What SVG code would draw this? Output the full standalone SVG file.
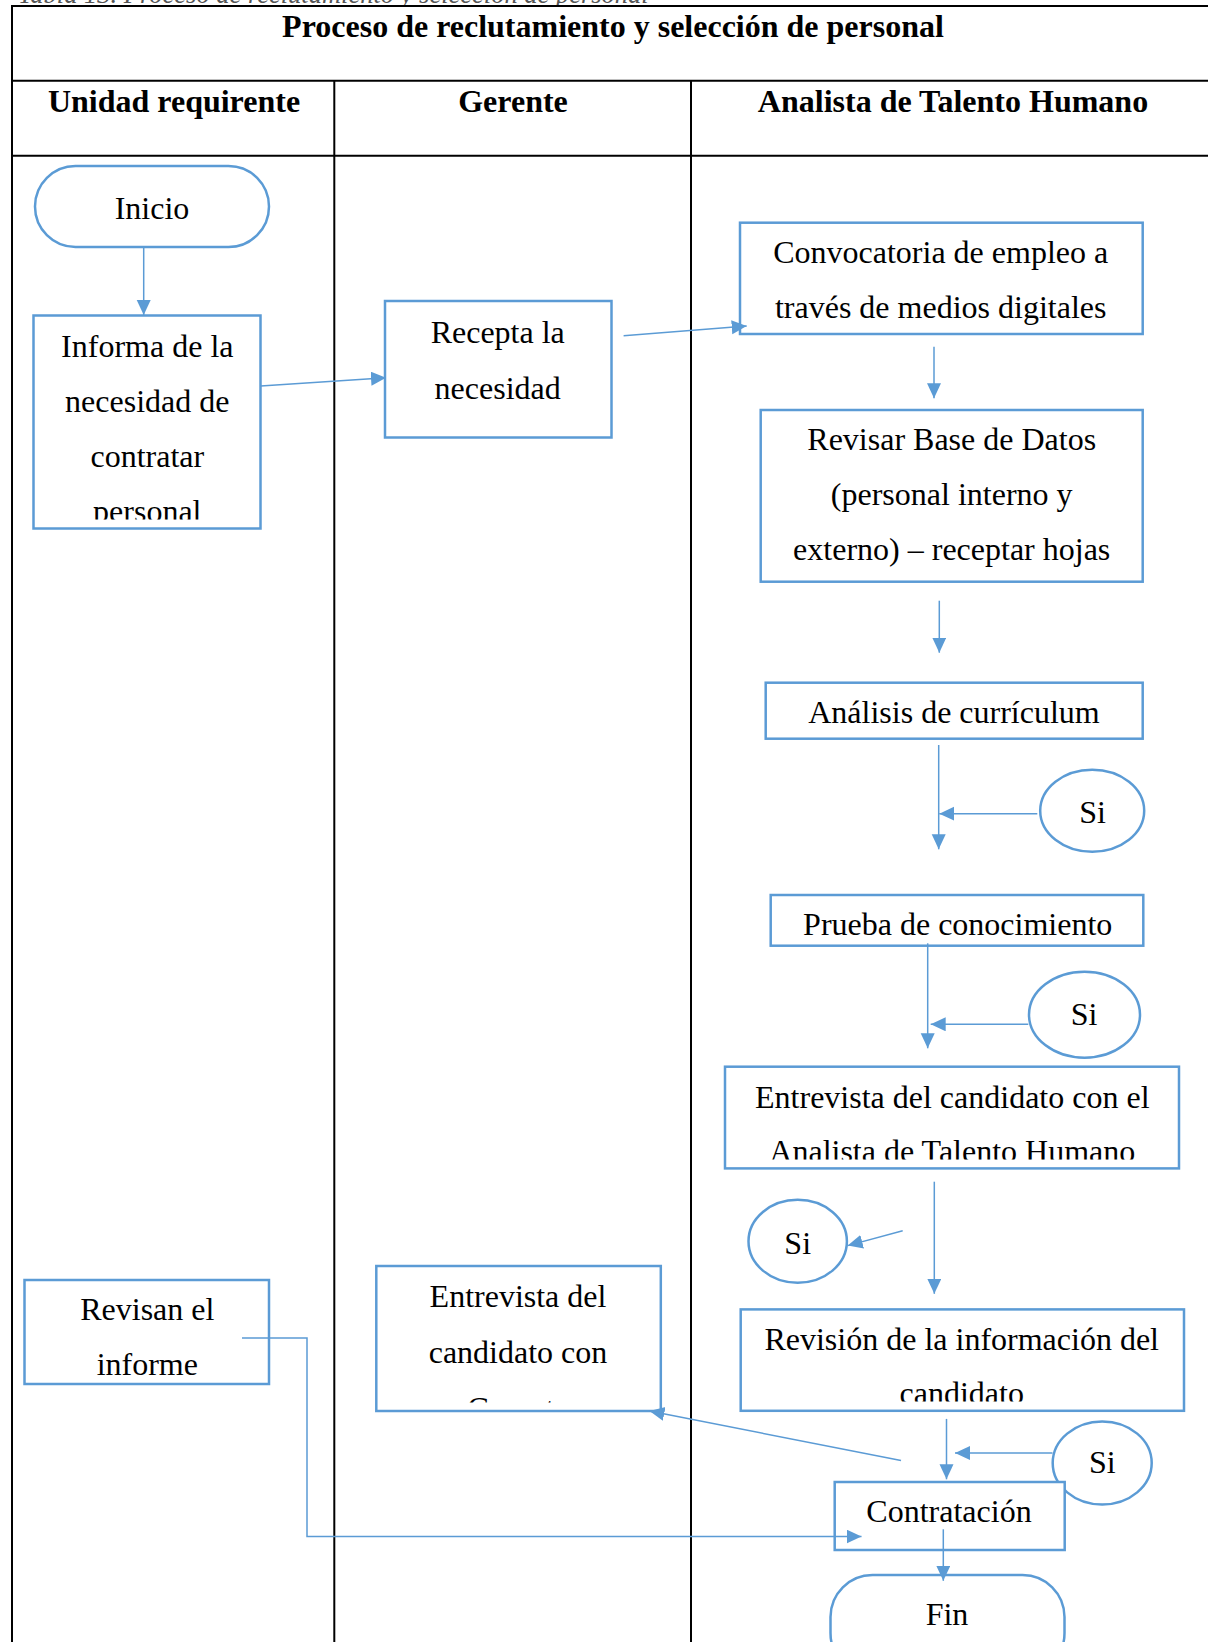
<svg xmlns="http://www.w3.org/2000/svg" width="1208" height="1642" viewBox="0 0 1208 1642">
  <style>
    .lane { stroke: #000; stroke-width: 2; fill: none; }
    .box { fill: #fff; stroke: #5B9BD5; stroke-width: 2.5; }
    .t { font-family: "Liberation Serif", "Times New Roman", serif; font-size: 32px; fill: #000; text-anchor: middle; }
    .h { font-weight: bold; }
    .cap { font-family: "Liberation Serif", "Times New Roman", serif; font-size: 26.5px; font-style: italic; fill: #555; }
    .c { stroke: #5B9BD5; stroke-width: 1.5; fill: none; marker-end: url(#arr); }
  </style>
  <defs>
    <marker id="arr" markerUnits="userSpaceOnUse" markerWidth="16" markerHeight="15" refX="15" refY="7" orient="auto">
      <path d="M0,0 L15,7 L0,14 z" fill="#5B9BD5"/>
    </marker>
    <clipPath id="clipInforma"><rect x="34" y="316" width="226" height="203.5"/></clipPath>
    <clipPath id="clipAth"><rect x="726" y="1067" width="452" height="92.5"/></clipPath>
    <clipPath id="clipRevision"><rect x="741" y="1310" width="442" height="91.5"/></clipPath>
    <clipPath id="clipGerente"><rect x="377" y="1267" width="283" height="135.5"/></clipPath>
  </defs>

  <rect x="0" y="0" width="1208" height="1642" fill="#fff"/>

  <!-- table caption, mostly hidden above the table frame -->
  <text class="cap" x="18" y="2.5">Tabla 13. Proceso de reclutamiento y selección de personal</text>
  <rect x="0" y="6" width="1208" height="1636" fill="#fff"/>

  <!-- swimlane table -->
  <g id="lanes">
    <line class="lane" x1="12" y1="6" x2="1208" y2="6"/>
    <line class="lane" x1="12" y1="80.7" x2="1208" y2="80.7"/>
    <line class="lane" x1="12" y1="155.7" x2="1208" y2="155.7"/>
    <line class="lane" x1="12" y1="5" x2="12" y2="1642"/>
    <line class="lane" x1="334.3" y1="80.7" x2="334.3" y2="1642"/>
    <line class="lane" x1="691" y1="80.7" x2="691" y2="1642"/>
    <text class="t h" x="613" y="36.5">Proceso de reclutamiento y selección de personal</text>
    <text class="t h" x="174" y="111.7">Unidad requirente</text>
    <text class="t h" x="513" y="111.7">Gerente</text>
    <text class="t h" x="953" y="111.7">Analista de Talento Humano</text>
  </g>

  <!-- Unidad requirente -->
  <g id="inicio">
    <rect class="box" x="35" y="166" width="234" height="81" rx="40.5" ry="40.5"/>
    <text class="t" x="152" y="219">Inicio</text>
  </g>
  <g id="informa">
    <rect class="box" x="33.5" y="315.5" width="227" height="213"/>
    <g clip-path="url(#clipInforma)">
      <text class="t" x="147.3" y="356.7">Informa de la</text>
      <text class="t" x="147.3" y="411.7">necesidad de</text>
      <text class="t" x="147.3" y="467">contratar</text>
      <text class="t" x="147.3" y="522">personal</text>
    </g>
  </g>
  <g id="revisan">
    <rect class="box" x="24.5" y="1280" width="244.5" height="104"/>
    <text class="t" x="147.3" y="1320">Revisan el</text>
    <text class="t" x="147.3" y="1375">informe</text>
  </g>

  <!-- Gerente -->
  <g id="recepta">
    <rect class="box" x="385" y="301" width="226.5" height="136.5"/>
    <text class="t" x="497.7" y="343.3">Recepta la</text>
    <text class="t" x="497.7" y="399.3">necesidad</text>
  </g>
  <g id="entrevista-gerente">
    <rect class="box" x="376.3" y="1266" width="284.5" height="145"/>
    <g clip-path="url(#clipGerente)">
      <text class="t" x="518" y="1306.7">Entrevista del</text>
      <text class="t" x="518" y="1362.7">candidato con</text>
      <text class="t" x="518" y="1418.7">Gerente</text>
    </g>
  </g>

  <!-- Analista de Talento Humano -->
  <g id="convocatoria">
    <rect class="box" x="740" y="222.7" width="402.7" height="111.3"/>
    <text class="t" x="940.7" y="263.3">Convocatoria de empleo a</text>
    <text class="t" x="940.7" y="318.3">través de medios digitales</text>
  </g>
  <g id="revisar-bd">
    <rect class="box" x="760.7" y="410" width="382" height="171.7"/>
    <text class="t" x="951.7" y="450">Revisar Base de Datos</text>
    <text class="t" x="951.7" y="505">(personal interno y</text>
    <text class="t" x="951.7" y="560">externo) – receptar hojas</text>
  </g>
  <g id="analisis">
    <rect class="box" x="765.7" y="682.7" width="377" height="56"/>
    <text class="t" x="954" y="723.3">Análisis de currículum</text>
  </g>
  <g id="si-1">
    <ellipse class="box" cx="1092.2" cy="810.7" rx="52" ry="41"/>
    <text class="t" x="1092.5" y="822.7">Si</text>
  </g>
  <g id="prueba">
    <rect class="box" x="770.7" y="895" width="372.6" height="50.7"/>
    <text class="t" x="957.7" y="935">Prueba de conocimiento</text>
  </g>
  <g id="si-2">
    <ellipse class="box" cx="1084.5" cy="1014.7" rx="55.5" ry="43"/>
    <text class="t" x="1084" y="1025">Si</text>
  </g>
  <g id="entrevista-analista">
    <rect class="box" x="725" y="1066.7" width="454" height="101.7"/>
    <g clip-path="url(#clipAth)">
      <text class="t" x="952.3" y="1107.5">Entrevista del candidato con el</text>
      <text class="t" x="952.3" y="1162">Analista de Talento Humano</text>
    </g>
  </g>
  <g id="si-3">
    <ellipse class="box" cx="797.7" cy="1241.3" rx="49.2" ry="41.5"/>
    <text class="t" x="797.7" y="1253.8">Si</text>
  </g>
  <g id="revision">
    <rect class="box" x="740.7" y="1309.4" width="443.3" height="101.4"/>
    <g clip-path="url(#clipRevision)">
      <text class="t" x="961.7" y="1349.5">Revisión de la información del</text>
      <text class="t" x="961.7" y="1404">candidato</text>
    </g>
  </g>
  <g id="si-4">
    <ellipse class="box" cx="1102.2" cy="1463" rx="49.5" ry="41.5"/>
    <text class="t" x="1102.3" y="1473">Si</text>
  </g>
  <g id="contratacion">
    <rect class="box" x="834.7" y="1482" width="230" height="68"/>
    <text class="t" x="949" y="1522">Contratación</text>
  </g>
  <g id="fin">
    <rect class="box" x="830.5" y="1575" width="234" height="100" rx="42" ry="42"/>
    <text class="t" x="947" y="1625">Fin</text>
  </g>

  <!-- connectors -->
  <g id="connectors">
    <path class="c" d="M143.7,248 V315"/>
    <path class="c" d="M260.7,386 L386,377.7"/>
    <path class="c" d="M623.6,335.7 L746.7,326"/>
    <path class="c" d="M934,346.7 V398.3"/>
    <path class="c" d="M939.3,600.7 V652.7"/>
    <path class="c" d="M938.7,745 V849.3"/>
    <path class="c" d="M1037.3,813.7 H939.3"/>
    <path class="c" d="M927.7,943.3 V1048.3"/>
    <path class="c" d="M1028.3,1024.3 H930.7"/>
    <path class="c" d="M934.3,1181.7 V1293.8"/>
    <path class="c" d="M902.7,1230.7 L847.7,1245.6"/>
    <path class="c" d="M946.5,1418.9 V1479.3"/>
    <path class="c" d="M1052.5,1453 H955"/>
    <path class="c" d="M901,1460.5 L649.5,1411"/>
    <path class="c" d="M242,1338 H307 V1536.5 H861.5" stroke="#7FB0E0"/>
    <path class="c" d="M943.3,1529.3 V1580.8"/>
  </g>
</svg>
